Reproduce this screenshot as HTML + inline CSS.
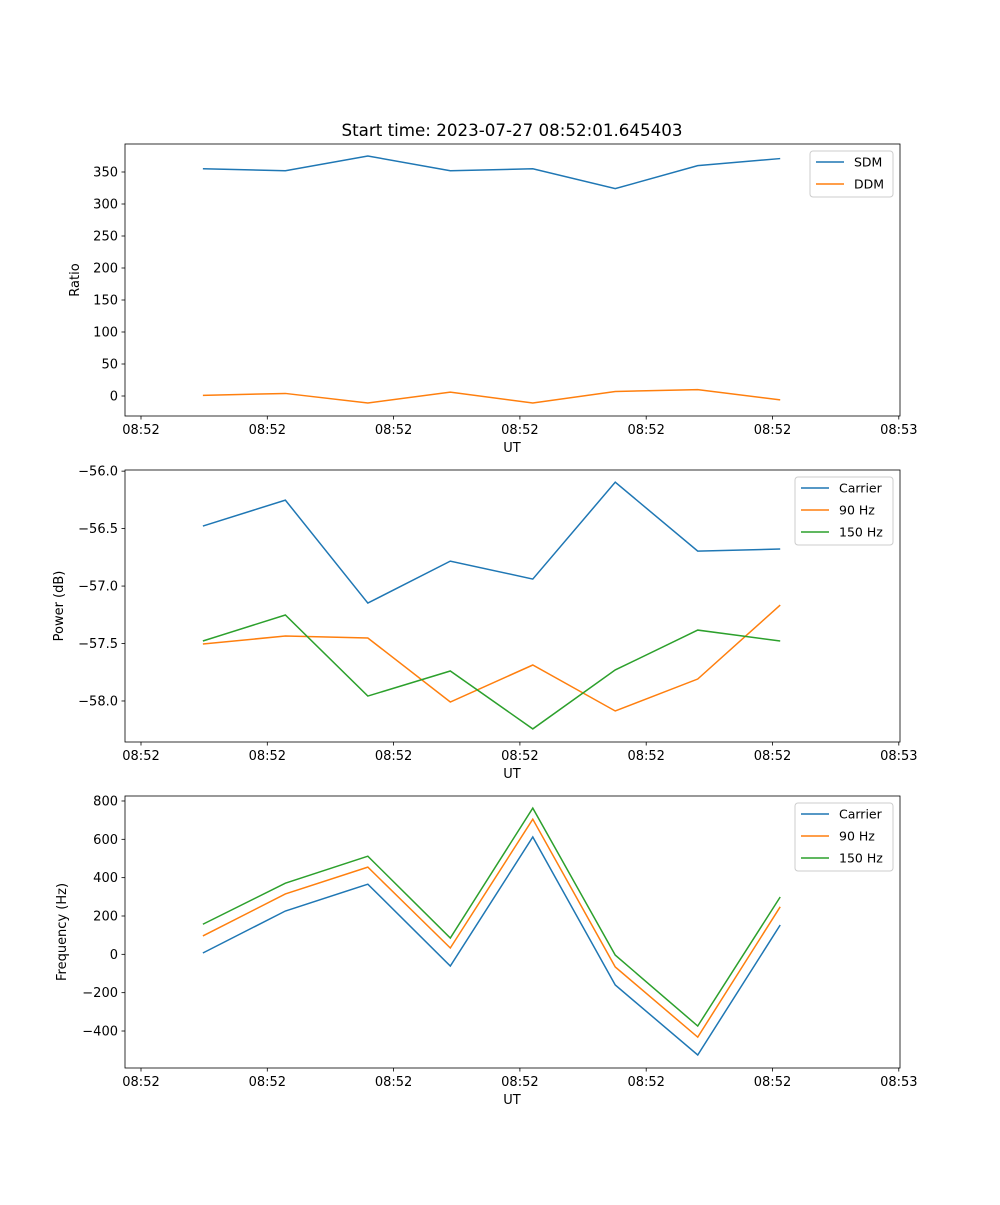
<!DOCTYPE html>
<html><head><meta charset="utf-8"><style>
body{margin:0;background:#fff}
svg text{font-family:"DejaVu Sans","Liberation Sans",sans-serif;font-size:13px;fill:#000}
</style></head><body>
<svg id="fig" width="1000" height="1200" xmlns="http://www.w3.org/2000/svg">
<rect width="1000" height="1200" fill="#fff"/>
<text x="512" y="136" text-anchor="middle" style="font-size:16.7px">Start time: 2023-07-27 08:52:01.645403</text>
</svg>
<script>
const xTickLabels=["08:52","08:52","08:52","08:52","08:52","08:52","08:53"];
const times=[0.49,1.143,1.796,2.449,3.102,3.755,4.408,5.061];
const sdm=[355,352,375,352,355,324,360,371];
const ddm=[1,4,-11,6,-11,7,10,-6];
const pCarrier=[-56.478,-56.252,-57.148,-56.783,-56.939,-56.096,-56.696,-56.678];
const p90=[-57.504,-57.435,-57.452,-58.009,-57.687,-58.087,-57.809,-57.165];
const p150=[-57.478,-57.252,-57.957,-57.739,-58.243,-57.730,-57.383,-57.478];
const fCarrier=[7,226,366,-61,612,-160,-525,153];
const f90=[96,315,455,33,705,-66,-432,248];
const f150=[157,371,512,85,763,-4,-374,299];
const y1Ticks=[0,50,100,150,200,250,300,350];
const y2Ticks=[-58.0,-57.5,-57.0,-56.5,-56.0];
const y3Ticks=[-400,-200,0,200,400,600,800];

const NS="http://www.w3.org/2000/svg";
const svg=document.getElementById('fig');
const C=['#1f77b4','#ff7f0e','#2ca02c'];
function mk(t,a,p){const e=document.createElementNS(NS,t);for(const k in a)e.setAttribute(k,a[k]);(p||svg).appendChild(e);return e;}
const L=125,R=900;
const xs=t=>141+t*126.3;
function panel(name,top,bot,ymin,ymax,yTicks,fmt,ylabel,series,names,legW,legX){
  const g=mk('g',{});
  
  
  const ys=v=>bot-(v-ymin)/(ymax-ymin)*(bot-top);
  series.forEach((s,i)=>{
    const pl=mk('polyline',{points:s.map((v,j)=>xs(times[j])+','+ys(v)).join(' '),fill:'none',stroke:C[i],'stroke-width':1.5},g);
    
    
  });
  mk('rect',{x:L,y:top,width:R-L,height:bot-top,fill:'none',stroke:'#000','stroke-width':0.8},g);
  xTickLabels.forEach((lb,i)=>{
    const x=xs(i);
    mk('line',{x1:x,x2:x,y1:bot,y2:bot+3.5,stroke:'#000','stroke-width':0.8},g);
    const t=mk('text',{x:x,y:bot+18,'text-anchor':'middle'},g);t.textContent=lb;
    
    
  });
  yTicks.forEach(v=>{
    const y=ys(v);
    mk('line',{x1:L,x2:L-3.5,y1:y,y2:y,stroke:'#000','stroke-width':0.8},g);
    const t=mk('text',{x:L-7,y:y+4.5,'text-anchor':'end'},g);t.textContent=fmt(v);
    
    
  });
  const xl=mk('text',{x:512,y:bot+36,'text-anchor':'middle'},g);xl.textContent='UT';
  
  
  const yc=(top+bot)/2;
  const yl=mk('text',{x:0,y:0,'text-anchor':'middle',transform:`translate(${ylabel[1]},${yc}) rotate(-90)`},g);yl.textContent=ylabel[0];
  
  
  const lg=mk('g',{},g);
  
  
  const h=2+names.length*22;
  mk('rect',{x:legX,y:top+7,width:legW,height:h,rx:3,fill:'#fff',stroke:'#ccc','stroke-width':1},lg);
  names.forEach((n,i)=>{
    const yy=top+18+i*22;
    mk('line',{x1:legX+6,x2:legX+34,y1:yy,y2:yy,stroke:C[i],'stroke-width':1.5},lg);
    const t=mk('text',{x:legX+44,y:yy+4.5,style:'font-size:12.5px'},lg);t.textContent=n;
    
    
  });
}
panel('ratio-panel',144,416,-31.25,393.75,y1Ticks,v=>v<0?'−'+(-v):String(v),['Ratio',79],[sdm,ddm],['SDM','DDM'],83,810);
panel('power-panel',470,742,-58.357,-55.99,y2Ticks,v=>'−'+(-v).toFixed(1),['Power (dB)',63],[pCarrier,p90,p150],['Carrier','90 Hz','150 Hz'],98,795);
panel('frequency-panel',796,1068,-593,826,y3Ticks,v=>v<0?'−'+(-v):String(v),['Frequency (Hz)',66],[fCarrier,f90,f150],['Carrier','90 Hz','150 Hz'],98,795);
</script>
</body></html>
